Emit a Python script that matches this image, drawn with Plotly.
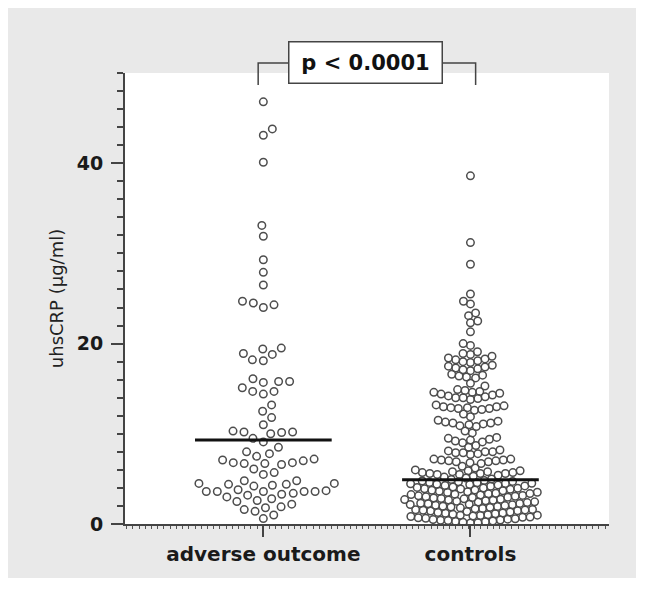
import numpy as np
import plotly.graph_objects as go

# ---------------- data ----------------
categories = ["adverse outcome", "controls"]

adverse_values = [
    46.8, 43.8, 43.1, 40.1, 33.1, 31.9, 29.3, 27.9, 26.5,
    24.7, 24.5, 24.3, 24.0,
    19.5, 19.4, 18.9, 18.8, 18.2, 18.1,
    16.1, 15.8, 15.8, 15.7, 15.1, 14.7, 14.7, 14.4,
    13.2, 12.5, 11.8, 11.0,
    10.3, 10.2, 10.2, 10.15, 10.0,
    9.5, 9.1, 8.5,
    8.0, 7.8, 7.5,
    7.2, 7.1, 7.0, 6.8, 6.8, 6.7, 6.7, 6.6,
    6.1, 5.7, 5.5,
    4.8, 4.8, 4.5, 4.5, 4.4, 4.4, 4.3, 4.2,
    3.8, 3.7, 3.6, 3.6, 3.6, 3.6, 3.6, 3.4, 3.3, 3.2, 3.0,
    2.8, 2.6, 2.5, 2.2,
    1.9, 1.8, 1.6, 1.4, 1.0, 0.6,
]

control_values = [
    38.6, 31.2, 28.8, 25.5, 24.7, 24.4,
    23.4, 23.1, 22.5, 22.3, 21.3,
    20.0, 19.8, 19.1, 18.9, 18.8, 18.6,
    18.4, 18.2, 18.1, 18.0, 17.9, 18.3,
    17.6, 17.4, 17.3, 17.2, 17.1, 17.5, 17.0,
    16.6, 16.4, 16.3, 16.2, 16.5, 15.6, 15.3,
    14.9, 14.7, 14.6, 14.5, 14.4, 14.8, 14.3, 14.6,
    14.1, 14.0, 13.9, 14.2, 13.8, 14.0,
    13.2, 13.0, 12.9, 12.8, 12.7, 13.1, 12.9, 12.6, 13.0, 12.8,
    12.2, 11.9,
    11.5, 11.3, 11.2, 11.1, 11.0, 10.9, 11.2, 11.4, 10.8,
    10.3, 10.1,
    9.6, 9.4, 9.3, 9.2, 9.1, 9.5, 9.0,
    8.7, 8.5,
    8.2, 8.0, 7.9, 7.8, 8.1, 7.7, 8.0, 7.9,
    7.2, 7.1, 7.0, 6.9, 6.8, 7.1, 6.9, 7.0, 6.7, 7.2,
    6.4, 6.2,
    6.0, 5.9, 5.8, 5.7, 5.6, 5.5, 5.8, 5.6, 5.7, 5.4, 5.9, 5.5, 5.3, 5.6, 5.2,
    5.1, 5.0,
    4.93, 4.81, 4.77, 4.72, 4.68, 4.61, 4.57, 4.52, 4.46, 4.41, 4.38, 4.33, 4.27,
    4.22, 4.18, 4.11, 4.06, 3.98, 3.95, 3.89, 3.84, 3.78, 3.74, 3.69, 3.63, 3.58,
    3.52, 3.49, 3.41, 3.37, 3.31, 3.26, 3.22, 3.17, 3.12, 3.08, 3.03, 2.97, 2.94,
    2.88, 2.83, 2.79, 2.71, 2.66, 2.62, 2.57, 2.51, 2.46, 2.43, 2.37, 2.31, 2.28,
    2.24, 2.19, 2.13, 2.08, 2.04, 1.97, 1.93, 1.88, 1.84, 1.79, 1.73, 1.68, 1.62,
    1.59, 1.53, 1.48, 1.44, 1.39, 1.32, 1.28, 1.23, 1.19, 1.14, 1.08, 1.03, 0.98,
    0.94, 0.89, 0.83, 0.78, 0.74, 0.69, 0.63, 0.58, 0.54, 0.49, 0.43, 0.38, 0.34,
    0.29, 0.24, 0.19, 0.15, 0.11, 4.49, 3.91, 3.34, 2.74, 2.16, 1.56, 0.96, 0.41,
]

medians = [9.3, 4.9]
y_tick_values = [0, 20, 40]
y_title = "uhsCRP (µg/ml)"
p_label = "p &lt; 0.0001"

# ---------------- layout constants ----------------
BODY = 8  # default page margin around the figure
W, H = 628, 570
M = dict(l=117, r=27, t=65, b=51, pad=0)
X_RANGE = [-0.668, 1.669]
Y_RANGE = [0, 50]
plot_w = W - M["l"] - M["r"]
plot_h = H - M["t"] - M["b"]
ppx = plot_w / (X_RANGE[1] - X_RANGE[0])
ppy = plot_h / (Y_RANGE[1] - Y_RANGE[0])


def swarm_offsets(values, d):
    """Beeswarm horizontal offsets (data units) with collision distance d px."""
    ys = np.asarray(values, float) * ppy
    order = np.argsort(ys, kind="stable")
    px_, py_ = [], []
    xs = np.zeros(len(ys))
    flip = 1.0
    for i in order:
        y = ys[i]
        if px_:
            PX = np.array(px_)
            PY = np.array(py_)
            near = np.abs(PY - y) < d
            NX, NY = PX[near], PY[near]
        else:
            NX = NY = np.array([])
        cands = [0.0]
        for xj, yj in zip(NX, NY):
            dx = np.sqrt(max(d * d - (y - yj) ** 2, 0.0))
            cands += [xj + dx, xj - dx]
        cands = sorted(cands, key=lambda c: (round(abs(c), 4), -flip * np.sign(c)))
        chosen = 0.0
        for c in cands:
            if len(NX) == 0 or np.all((c - NX) ** 2 + (y - NY) ** 2 >= d * d - 1e-6):
                chosen = c
                break
        xs[i] = chosen
        if chosen != 0:
            flip = -flip
        px_.append(chosen)
        py_.append(y)
    return xs / ppx


groups = [adverse_values, control_values]
collide = [11.0, 7.5]

fig = go.Figure()
for k, vals in enumerate(groups):
    off = swarm_offsets(vals, collide[k])
    fig.add_trace(go.Scatter(
        x=k + off, y=vals, mode="markers",
        marker=dict(symbol="circle-open", size=7.5, color="#4d4d4d",
                    line=dict(width=1.5, color="#4d4d4d")),
        showlegend=False, hoverinfo="y",
    ))

half = 0.33
for k, m in enumerate(medians):
    fig.add_trace(go.Scatter(
        x=[k - half, k + half], y=[m, m], mode="lines",
        line=dict(color="#111111", width=3), showlegend=False, hoverinfo="skip",
    ))


def to_paper_x(xd):
    return (xd - X_RANGE[0]) / (X_RANGE[1] - X_RANGE[0])


def px_to_paper_y(py):
    return (BODY + H - M["b"] - py) / plot_h


def px_to_paper_x(px):
    return (px - BODY - M["l"]) / plot_w


# significance bracket
xl, xr = to_paper_x(-0.025), to_paper_x(1.025)
yt, yb = px_to_paper_y(63), px_to_paper_y(85)
shapes = [dict(type="path", xref="paper", yref="paper", layer="above",
               path=f"M {xl} {yb} L {xl} {yt} L {xr} {yt} L {xr} {yb}",
               line=dict(color="#444444", width=1.5))]

fig.update_layout(
    width=W, height=H, margin=M,
    paper_bgcolor="#e9e9e9", plot_bgcolor="white",
    shapes=shapes,
    annotations=[dict(
        xref="paper", yref="paper",
        x=px_to_paper_x(365.5), y=px_to_paper_y(62.5),
        xanchor="center", yanchor="middle", showarrow=False,
        text=f"<b>{p_label}</b>",
        font=dict(family="DejaVu Sans", size=21, color="#111111"),
        bgcolor="white", bordercolor="#444444", borderwidth=1.5,
        borderpad=3, width=146, height=34,
    )],
    xaxis=dict(
        range=X_RANGE, tickmode="array", tickvals=[0, 1], ticktext=categories,
        showgrid=False, zeroline=False, showline=True, linecolor="#444444",
        linewidth=2, ticks="outside", ticklen=11, tickwidth=1.5,
        tickcolor="#444444",
        tickfont=dict(family="DejaVu Sans", size=20, color="#1a1a1a", weight="bold"),
        minor=dict(ticks="outside", tickmode="linear", tick0=0, dtick=0.03,
                   ticklen=3, tickwidth=1.2, tickcolor="#555555", showgrid=False),
    ),
    yaxis=dict(
        range=Y_RANGE, tickmode="array", tickvals=y_tick_values,
        showgrid=False, zeroline=False, showline=True, linecolor="#444444",
        linewidth=2, ticks="outside", ticklen=12, tickwidth=1.5,
        tickcolor="#444444", ticklabelstandoff=4,
        tickfont=dict(family="DejaVu Sans", size=19, color="#1a1a1a", weight="bold"),
        minor=dict(ticks="outside", tickmode="linear", tick0=0, dtick=2,
                   ticklen=6, tickwidth=1.5, tickcolor="#444444", showgrid=False),
        title=dict(text=y_title, standoff=8,
                   font=dict(family="DejaVu Sans", size=18, color="#222222")),
    ),
)

fig.write_html("out.html")
